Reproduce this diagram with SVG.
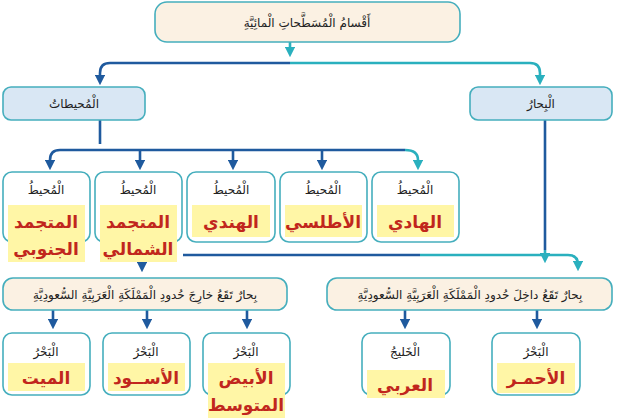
<svg xmlns="http://www.w3.org/2000/svg" width="622" height="418" viewBox="0 0 622 418">
<style>
.bx{fill:#fff;stroke:#45aebd;stroke-width:1.6}
.beige{fill:#fbf1e3;stroke:#45aebd;stroke-width:1.6}
.blue{fill:#d9e7f4;stroke:#45aebd;stroke-width:1.6}
.yl{fill:#fff6a6}
.t{font-family:"DejaVu Sans","Noto Sans",sans-serif;font-size:12px;fill:#222;text-anchor:middle}
.r{font-family:"DejaVu Sans","Noto Sans",sans-serif;font-size:17px;font-weight:bold;fill:#c1261d;text-anchor:middle}
.c{fill:none;stroke-width:2.6}
.d{stroke:#1f5a9e}.g{stroke:#2ab0be}
</style>
<defs>
<marker id="ad" markerWidth="4" markerHeight="4" refX="2" refY="2" orient="auto" markerUnits="strokeWidth"><path d="M0,0L4,2L0,4z" fill="#1f5a9e"/></marker>
<marker id="ag" markerWidth="4" markerHeight="4" refX="2" refY="2" orient="auto" markerUnits="strokeWidth"><path d="M0,0L4,2L0,4z" fill="#2ab0be"/></marker>
</defs>
<g id="connectors">
<path class="c g" d="M290,42V52" marker-end="url(#ag)"/>
<path class="c d" d="M290,63H110Q100,63 100,73V80" marker-end="url(#ad)"/>
<path class="c g" d="M290,63H530Q540,63 540,73V80" marker-end="url(#ag)"/>
<path class="c d" d="M100,120V144"/>
<path class="c d" d="M100,150H60Q50,150 50,160V165" marker-end="url(#ad)"/>
<path class="c d" d="M100,150H405"/>
<path class="c g" d="M405,150Q418,150 418,160V165" marker-end="url(#ag)"/>
<path class="c d" d="M140,150V165" marker-end="url(#ad)"/>
<path class="c d" d="M233,150V165" marker-end="url(#ad)"/>
<path class="c d" d="M322,150V165" marker-end="url(#ad)"/>
<path class="c d" d="M545,120V250"/>
<path class="c g" d="M545,250V258" marker-end="url(#ag)"/>
<path class="c d" d="M183,255H420"/>
<path class="c g" d="M420,255H568Q578,255 578,265V266" marker-end="url(#ag)"/>
<path class="c d" d="M142,264V267" marker-end="url(#ad)"/>
<path class="c d" d="M53,310V324" marker-end="url(#ad)"/>
<path class="c d" d="M147,310V324" marker-end="url(#ad)"/>
<path class="c d" d="M247,310V324" marker-end="url(#ad)"/>
<path class="c d" d="M405,310V324" marker-end="url(#ad)"/>
<path class="c d" d="M537,310V324" marker-end="url(#ad)"/>
</g>
<g id="n-root"><rect class="beige" x="155" y="2" width="305" height="40" rx="12"/><text class="t" x="307" y="27" font-size="13">أَقْسامُ الْمُسَطَّحاتِ الْمائِيَّةِ</text></g>
<g id="n-oceans"><rect class="blue" x="3" y="87" width="142" height="33" rx="8"/><text class="t" x="74" y="108">الْمُحيطاتُ</text></g>
<g id="n-seas"><rect class="blue" x="470" y="87" width="142" height="33" rx="8"/><text class="t" x="541" y="108">الْبِحارُ</text></g>
<g id="n-o1"><rect class="bx" x="3" y="172" width="87" height="70" rx="9"/><rect class="yl" x="8" y="205" width="77" height="57"/><text class="t" x="46" y="194">الْمُحيطُ</text><text class="r" x="46" y="228">المتجمد</text><text class="r" x="46" y="255">الجنوبي</text></g>
<g id="n-o2"><rect class="bx" x="95" y="172" width="87" height="70" rx="9"/><rect class="yl" x="100" y="205" width="77" height="57"/><text class="t" x="138" y="194">الْمُحيطُ</text><text class="r" x="138" y="228">المتجمد</text><text class="r" x="138" y="255">الشمالي</text></g>
<g id="n-o3"><rect class="bx" x="187" y="172" width="88" height="70" rx="9"/><rect class="yl" x="192" y="205" width="78" height="32"/><text class="t" x="231" y="194">الْمُحيطُ</text><text class="r" x="231" y="228">الهندي</text></g>
<g id="n-o4"><rect class="bx" x="280" y="172" width="87" height="70" rx="9"/><rect class="yl" x="285" y="205" width="77" height="32"/><text class="t" x="323" y="194">الْمُحيطُ</text><text class="r" x="323" y="228">الأطلسي</text></g>
<g id="n-o5"><rect class="bx" x="372" y="172" width="87" height="70" rx="9"/><rect class="yl" x="377" y="205" width="77" height="32"/><text class="t" x="415" y="194">الْمُحيطُ</text><text class="r" x="415" y="228">الهادي</text></g>
<g id="n-outside"><rect class="beige" x="3" y="278" width="284" height="32" rx="10"/><text class="t" x="145" y="299">بِحارٌ تَقَعُ خارِجَ حُدودِ الْمَمْلَكَةِ الْعَرَبِيَّةِ السُّعودِيَّةِ</text></g>
<g id="n-inside"><rect class="beige" x="327" y="278" width="285" height="32" rx="10"/><text class="t" x="470" y="299">بِحارٌ تَقَعُ داخِلَ حُدودِ الْمَمْلَكَةِ الْعَرَبِيَّةِ السُّعودِيَّةِ</text></g>
<g id="n-s1"><rect class="bx" x="3" y="333" width="87" height="62" rx="9"/><rect class="yl" x="8" y="363" width="77" height="28"/><text class="t" x="46" y="356">الْبَحْرُ</text><text class="r" x="46" y="384">الميت</text></g>
<g id="n-s2"><rect class="bx" x="103" y="333" width="87" height="62" rx="9"/><rect class="yl" x="108" y="363" width="77" height="28"/><text class="t" x="146" y="356">الْبَحْرُ</text><text class="r" x="146" y="384">الأســود</text></g>
<g id="n-s3"><rect class="bx" x="203" y="333" width="87" height="62" rx="9"/><rect class="yl" x="208" y="363" width="77" height="55"/><text class="t" x="246" y="356">الْبَحْرُ</text><text class="r" x="246" y="384">الأبيض</text><text class="r" x="246" y="411">المتوسط</text></g>
<g id="n-s4"><rect class="bx" x="362" y="333" width="88" height="62" rx="9"/><rect class="yl" x="367" y="370" width="78" height="28"/><text class="t" x="405" y="356">الْخَليجُ</text><text class="r" x="405" y="391">العربي</text></g>
<g id="n-s5"><rect class="bx" x="492" y="333" width="88" height="62" rx="9"/><rect class="yl" x="497" y="363" width="78" height="30"/><text class="t" x="536" y="356">الْبَحْرُ</text><text class="r" x="536" y="384">الأحمـر</text></g>
</svg>
